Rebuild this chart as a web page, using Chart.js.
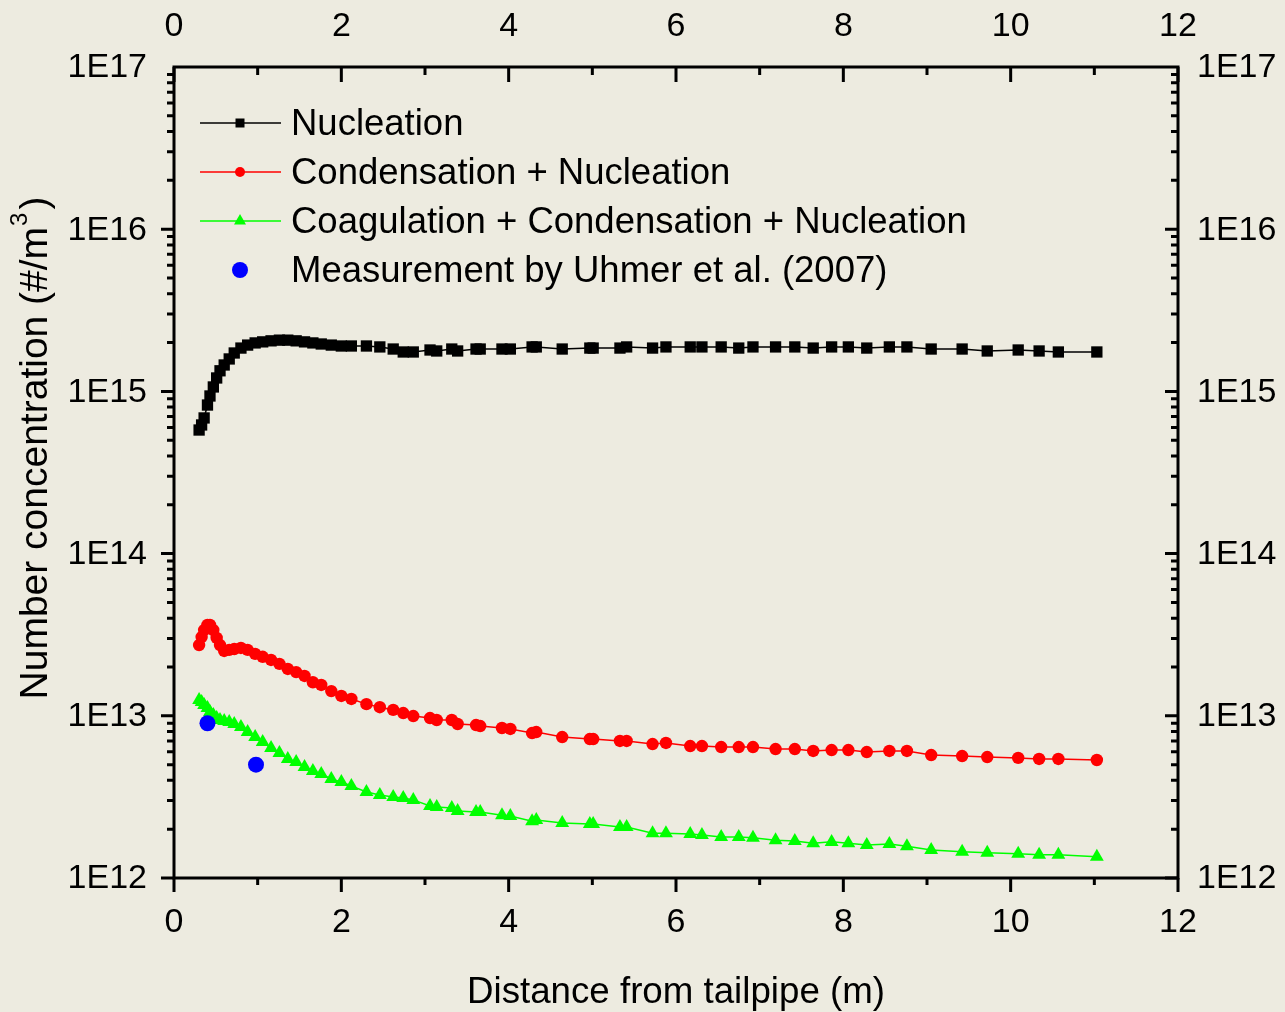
<!DOCTYPE html>
<html lang="en">
<head>
    <meta charset="UTF-8">
    <title>Number concentration vs distance from tailpipe</title>
    <script src="https://cdn.jsdelivr.net/npm/chart.js"></script>
    <style>
        body {
            margin: 0;
            padding: 0;
            background: #EDEBE0;
        }
    </style>
</head>
<body>
<canvas id="grafico" width="1285" height="1012"></canvas>
<script>
// distance from tailpipe (m), shared by the three model curves
const distance = [0.30, 0.33, 0.36, 0.40, 0.43, 0.47, 0.51, 0.55, 0.60, 0.66,
    0.72, 0.80, 0.88, 0.97, 1.06, 1.16, 1.26, 1.36, 1.46, 1.56,
    1.66, 1.76, 1.88, 2.00, 2.12, 2.30, 2.46, 2.62, 2.74, 2.86,
    3.06, 3.14, 3.32, 3.39, 3.61, 3.66, 3.92, 4.02, 4.28, 4.33,
    4.64, 4.97, 5.01, 5.33, 5.41, 5.72, 5.88, 6.17, 6.31, 6.54,
    6.75, 6.92, 7.19, 7.42, 7.64, 7.86, 8.06, 8.28, 8.55, 8.76,
    9.05, 9.42, 9.72, 10.09, 10.34, 10.57, 11.03];

const nucleation = [5.78e14, 6.21e14, 6.86e14, 8.24e14, 9.37e14, 1.065e15, 1.21e15, 1.34e15, 1.455e15, 1.585e15,
    1.725e15, 1.85e15, 1.93e15, 1.99e15, 2.02e15, 2.05e15, 2.07e15, 2.07e15, 2.05e15, 2.02e15,
    1.99e15, 1.96e15, 1.93e15, 1.905e15, 1.905e15, 1.905e15, 1.88e15, 1.825e15, 1.75e15, 1.75e15,
    1.80e15, 1.775e15, 1.825e15, 1.775e15, 1.825e15, 1.825e15, 1.825e15, 1.825e15, 1.88e15, 1.88e15,
    1.825e15, 1.85e15, 1.85e15, 1.85e15, 1.88e15, 1.85e15, 1.88e15, 1.88e15, 1.88e15, 1.88e15,
    1.85e15, 1.88e15, 1.88e15, 1.88e15, 1.85e15, 1.88e15, 1.88e15, 1.85e15, 1.88e15, 1.88e15,
    1.825e15, 1.825e15, 1.775e15, 1.80e15, 1.775e15, 1.75e15, 1.75e15];

const condensation = [2.73e13, 3.06e13, 3.38e13, 3.63e13, 3.63e13, 3.38e13, 3.02e13, 2.73e13, 2.51e13, 2.55e13,
    2.58e13, 2.62e13, 2.55e13, 2.41e13, 2.31e13, 2.21e13, 2.09e13, 1.945e13, 1.86e13, 1.76e13,
    1.61e13, 1.55e13, 1.42e13, 1.325e13, 1.27e13, 1.18e13, 1.13e13, 1.087e13, 1.04e13, 9.97e12,
    9.69e12, 9.42e12, 9.42e12, 8.90e12, 8.77e12, 8.65e12, 8.41e12, 8.30e12, 7.83e12, 7.94e12,
    7.40e12, 7.19e12, 7.19e12, 7.00e12, 7.00e12, 6.70e12, 6.80e12, 6.51e12, 6.51e12, 6.42e12,
    6.42e12, 6.42e12, 6.24e12, 6.24e12, 6.07e12, 6.15e12, 6.15e12, 5.98e12, 6.07e12, 6.07e12,
    5.73e12, 5.65e12, 5.57e12, 5.50e12, 5.42e12, 5.42e12, 5.34e12];

const coagulation = [1.25e13, 1.216e13, 1.167e13, 1.117e13, 1.055e13, 1.01e13, 9.69e12, 9.42e12, 9.29e12, 9.16e12,
    8.90e12, 8.53e12, 7.94e12, 7.40e12, 6.89e12, 6.33e12, 5.90e12, 5.42e12, 5.19e12, 4.83e12,
    4.57e12, 4.38e12, 4.08e12, 3.91e12, 3.69e12, 3.39e12, 3.25e12, 3.16e12, 3.11e12, 3.03e12,
    2.78e12, 2.74e12, 2.70e12, 2.59e12, 2.55e12, 2.55e12, 2.44e12, 2.41e12, 2.24e12, 2.28e12,
    2.18e12, 2.15e12, 2.15e12, 2.06e12, 2.06e12, 1.89e12, 1.89e12, 1.87e12, 1.84e12, 1.79e12,
    1.79e12, 1.77e12, 1.71e12, 1.69e12, 1.64e12, 1.67e12, 1.64e12, 1.60e12, 1.62e12, 1.57e12,
    1.49e12, 1.45e12, 1.43e12, 1.41e12, 1.39e12, 1.39e12, 1.35e12];

// Uhmer et al. (2007)
const measuredDistance = [0.40, 0.98];
const measuredValue = [9.0e12, 5.0e12];

const xTicks = [0, 2, 4, 6, 8, 10, 12];
const yTicks = [1e12, 1e13, 1e14, 1e15, 1e16, 1e17];
const yTickLabels = ['1E12', '1E13', '1E14', '1E15', '1E16', '1E17'];

const seriesNames = ['Nucleation', 'Condensation + Nucleation',
    'Coagulation + Condensation + Nucleation', 'Measurement by Uhmer et al. (2007)'];

const FONT = '"Liberation Sans", Arial, sans-serif';

function pts(xs, ys) {
    return xs.map((x, i) => ({ x: x, y: ys[i] }));
}

// Origin-like frame: axes box, ticks in/out, labels, titles, legend
const originFrame = {
    id: 'originFrame',
    beforeDraw(chart) {
        const ctx = chart.ctx;
        ctx.save();
        ctx.fillStyle = '#EDEBE0';
        ctx.fillRect(0, 0, chart.width, chart.height);
        ctx.restore();
    },
    afterDraw(chart) {
        const { ctx, chartArea: a } = chart;
        const xs = chart.scales.x, ys = chart.scales.y;
        ctx.save();
        ctx.strokeStyle = '#000';
        ctx.fillStyle = '#000';
        ctx.lineWidth = 3;
        ctx.lineCap = 'butt';

        ctx.strokeRect(a.left, a.top, a.right - a.left, a.bottom - a.top);

        // x ticks (bottom outward, top inward)
        ctx.beginPath();
        for (let v = xs.min; v <= xs.max; v++) {
            const px = xs.getPixelForValue(v);
            const major = v % 2 === 0;
            ctx.moveTo(px, a.bottom);
            ctx.lineTo(px, a.bottom + (major ? 14 : 7));
            ctx.moveTo(px, a.top);
            ctx.lineTo(px, a.top + (major ? 15 : 8));
        }
        // y ticks (left outward, right inward)
        for (let d = 12; d < 17; d++) {
            for (let m = 1; m <= 9; m++) {
                const py = ys.getPixelForValue(m * Math.pow(10, d));
                const len = m === 1 ? 13 : 7;
                ctx.moveTo(a.left - len, py);
                ctx.lineTo(a.left, py);
                ctx.moveTo(a.right - len, py);
                ctx.lineTo(a.right, py);
            }
        }
        ctx.stroke();

        // tick labels
        ctx.font = '34px ' + FONT;
        ctx.textAlign = 'center';
        ctx.textBaseline = 'middle';
        xTicks.forEach(v => {
            const px = xs.getPixelForValue(v);
            ctx.fillText(String(v), px, a.bottom + 45);
            ctx.fillText(String(v), px, a.top - 40);
        });
        yTicks.forEach((v, i) => {
            const py = ys.getPixelForValue(v);
            ctx.textAlign = 'right';
            ctx.fillText(yTickLabels[i], a.left - 27, py + 1);
            ctx.textAlign = 'left';
            ctx.fillText(yTickLabels[i], a.right + 19, py + 1);
        });

        // axis titles
        ctx.font = '36.7px ' + FONT;
        ctx.textAlign = 'center';
        ctx.fillText('Distance from tailpipe (m)', 676, 993);

        ctx.save();
        ctx.translate(36, 448);
        ctx.rotate(-Math.PI / 2);
        ctx.textBaseline = 'middle';
        const t1 = 'Number concentration (#/m', t2 = '3', t3 = ')';
        ctx.font = '39px ' + FONT;
        const w1 = ctx.measureText(t1).width, w3 = ctx.measureText(t3).width;
        ctx.font = '24px ' + FONT;
        const w2 = ctx.measureText(t2).width + 4;
        let sx = -(w1 + w2 + w3) / 2;
        ctx.textAlign = 'left';
        ctx.font = '39px ' + FONT;
        ctx.fillText(t1, sx, 0);
        ctx.font = '24px ' + FONT;
        ctx.fillText(t2, sx + w1 + 1, -16);
        ctx.font = '39px ' + FONT;
        ctx.fillText(t3, sx + w1 + w2, 0);
        ctx.restore();

        // legend
        const rows = [123, 172, 221, 270];
        chart.data.datasets.slice().sort((p, q) => p.legendIndex - q.legendIndex).forEach((ds, i) => {
            const yy = rows[i];
            if (ds.showLine !== false) {
                ctx.strokeStyle = ds.borderColor;
                ctx.lineWidth = 1.5;
                ctx.beginPath();
                ctx.moveTo(200, yy);
                ctx.lineTo(281, yy);
                ctx.stroke();
            }
            const r = ds.legendRadius;
            ctx.fillStyle = ds.pointBackgroundColor;
            ctx.beginPath();
            if (ds.pointStyle === 'rect') {
                ctx.rect(240 - r, yy - r, 2 * r, 2 * r);
            } else if (ds.pointStyle === 'triangle') {
                ctx.moveTo(240, yy - r * 1.15);
                ctx.lineTo(240 + r, yy + r * 0.6);
                ctx.lineTo(240 - r, yy + r * 0.6);
                ctx.closePath();
            } else {
                ctx.arc(240, yy, r, 0, Math.PI * 2);
            }
            ctx.fill();
            ctx.fillStyle = '#000';
            ctx.font = '36.5px ' + FONT;
            ctx.textAlign = 'left';
            ctx.textBaseline = 'middle';
            ctx.fillText(ds.label, 291, yy + 2);
        });
        ctx.restore();
    }
};

document.addEventListener('DOMContentLoaded', () => {
    const ctx = document.getElementById('grafico').getContext('2d');
    new Chart(ctx, {
        type: 'line',
        data: {
            datasets: [
                {
                    label: seriesNames[3],
                    legendIndex: 3,
                    legendRadius: 8,
                    data: pts(measuredDistance, measuredValue),
                    showLine: false,
                    pointStyle: 'circle',
                    pointRadius: 8,
                    pointBackgroundColor: '#0000FF',
                    pointBorderColor: '#0000FF',
                    pointBorderWidth: 0,
                    order: 0
                },
                {
                    label: seriesNames[2],
                    legendIndex: 2,
                    legendRadius: 6,
                    data: pts(distance, coagulation),
                    borderColor: '#00FF00',
                    borderWidth: 1.5,
                    pointStyle: 'triangle',
                    pointRadius: 8,
                    pointBackgroundColor: '#00FF00',
                    pointBorderColor: '#00FF00',
                    pointBorderWidth: 0,
                    order: 1
                },
                {
                    label: seriesNames[1],
                    legendIndex: 1,
                    legendRadius: 5,
                    data: pts(distance, condensation),
                    borderColor: '#FF0000',
                    borderWidth: 1.5,
                    pointStyle: 'circle',
                    pointRadius: 6.2,
                    pointBackgroundColor: '#FF0000',
                    pointBorderColor: '#FF0000',
                    pointBorderWidth: 0,
                    order: 2
                },
                {
                    label: seriesNames[0],
                    legendIndex: 0,
                    legendRadius: 4.5,
                    data: pts(distance, nucleation),
                    borderColor: '#000000',
                    borderWidth: 1.5,
                    pointStyle: 'rect',
                    pointRadius: 8,
                    pointBackgroundColor: '#000000',
                    pointBorderColor: '#000000',
                    pointBorderWidth: 0,
                    order: 3
                }
            ]
        },
        options: {
            responsive: false,
            animation: false,
            layout: {
                padding: { left: 174, right: 107, top: 67, bottom: 134 }
            },
            scales: {
                x: { type: 'linear', min: 0, max: 12, display: false },
                y: { type: 'logarithmic', min: 1e12, max: 1e17, display: false }
            },
            plugins: {
                legend: { display: false },
                tooltip: { enabled: false }
            }
        },
        plugins: [originFrame]
    });
});
</script>
</body>
</html>
